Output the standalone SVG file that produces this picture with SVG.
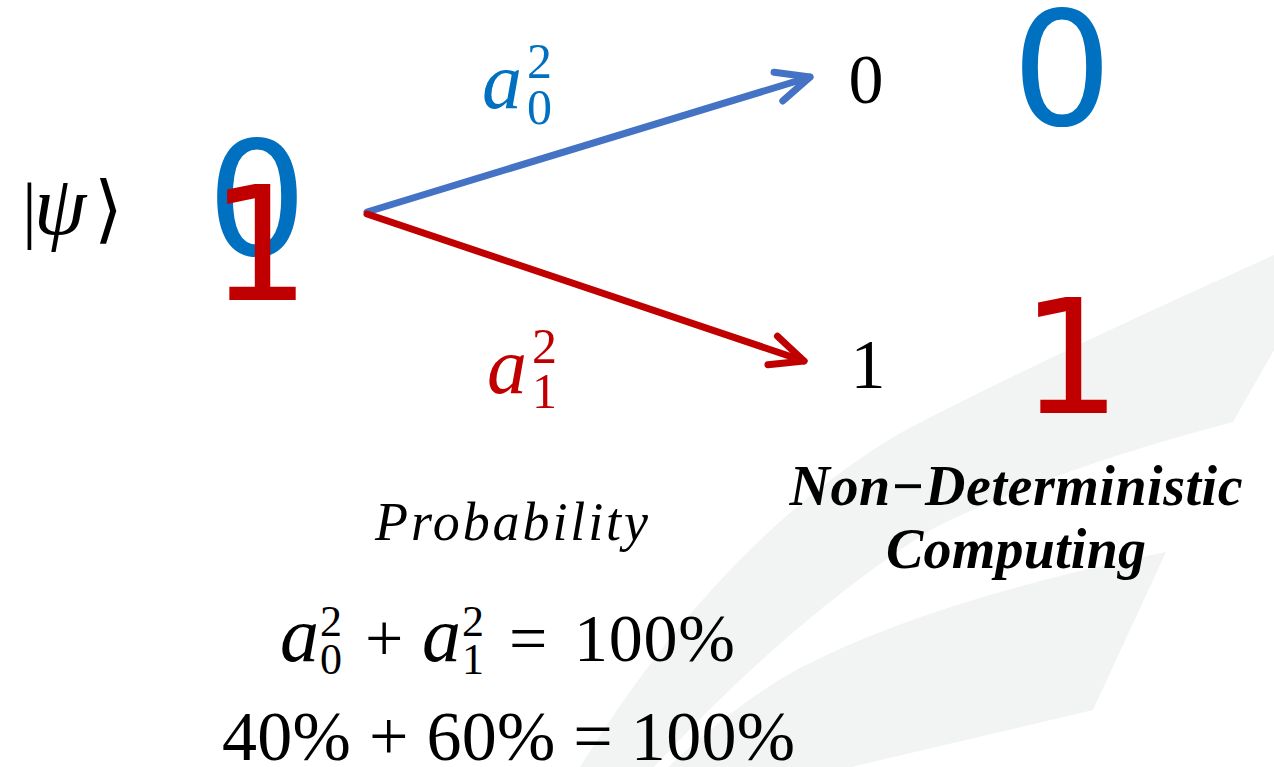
<svg xmlns="http://www.w3.org/2000/svg" width="1274" height="767" viewBox="0 0 1274 767">
<style>
.bg{fill:#F2F3F3}
.math{font-family:"Liberation Serif","DejaVu Serif",serif}
.it{font-style:italic}
.big{font-family:"DejaVu Sans",sans-serif;font-size:158px;text-anchor:middle}
.blue{fill:#0070C0}
.red{fill:#C00000}
.conn{fill:none;stroke-width:7;stroke-linecap:round;stroke-linejoin:round}
</style>
<defs>
<marker id="ahB" viewBox="0 0 46 44" refX="40" refY="22" markerWidth="46" markerHeight="44" markerUnits="userSpaceOnUse" orient="auto">
<path d="M7,7 L40,22 L7,37" fill="none" stroke="#4472C4" stroke-width="7" stroke-linecap="round" stroke-linejoin="round"/>
</marker>
<marker id="ahR" viewBox="0 0 46 44" refX="40" refY="22" markerWidth="46" markerHeight="44" markerUnits="userSpaceOnUse" orient="auto">
<path d="M7,7 L40,22 L7,37" fill="none" stroke="#C00000" stroke-width="7" stroke-linecap="round" stroke-linejoin="round"/>
</marker>
</defs>
<rect width="1274" height="767" fill="#FFFFFF"/>
<g id="background">
<path class="bg" d="M1274,255 Q1050,355 900,433 Q720,540 580,767 L654,767 Q790,620 930,530 Q1050,470 1233,422 L1274,350 Z"/>
<path class="bg" d="M668,767 Q740,700 800,668 Q930,600 1166,552 L1093,710 L851,767 Z"/>
</g>
<g id="connectors">
<line class="conn" x1="367" y1="212" x2="810" y2="77" stroke="#4472C4" marker-end="url(#ahB)"/>
<line class="conn" x1="367" y1="214" x2="804" y2="361" stroke="#C00000" marker-end="url(#ahR)"/>
</g>
<g id="psi">
<text class="math" y="234" font-size="74"><tspan x="22">|</tspan><tspan x="34" class="it" font-size="84">ψ</tspan><tspan x="94">⟩</tspan></text>
</g>
<g id="superposition">
<text class="big blue" x="257" y="255">0</text>
<text class="big red" x="260" y="300">1</text>
</g>
<g id="label-a0">
<text class="math it blue" x="482" y="108" font-size="80">a</text>
<text class="math blue" x="527" y="78" font-size="50">2</text>
<text class="math blue" x="527" y="124" font-size="50">0</text>
</g>
<g id="label-a1">
<text class="math it red" x="487" y="393" font-size="80">a</text>
<text class="math red" x="532" y="363" font-size="50">2</text>
<text class="math red" x="532" y="408" font-size="50">1</text>
</g>
<g id="out0">
<text class="math" x="866" y="103" font-size="70" text-anchor="middle">0</text>
</g>
<g id="out1">
<text class="math" x="868" y="388" font-size="70" text-anchor="middle">1</text>
</g>
<g id="result0">
<text class="big blue" x="1062" y="125">0</text>
</g>
<g id="result1">
<text class="big red" x="1071" y="413">1</text>
</g>
<g id="probability">
<text class="math it" x="375" y="540" font-size="54" textLength="273" lengthAdjust="spacing">Probability</text>
<text class="math" y="661" font-size="68"><tspan x="280" class="it" font-size="78">a</tspan><tspan x="320" y="636" font-size="44">2</tspan><tspan x="320" y="674" font-size="44">0</tspan><tspan x="365" y="661">+</tspan><tspan x="422" class="it" font-size="78">a</tspan><tspan x="462" y="636" font-size="44">2</tspan><tspan x="462" y="674" font-size="44">1</tspan><tspan x="509" y="661">=</tspan><tspan x="574" textLength="161" lengthAdjust="spacing">100%</tspan></text>
<text class="math" x="222" y="760" font-size="70" textLength="573" lengthAdjust="spacing">40% + 60% = 100%</text>
</g>
<g id="non-deterministic">
<text class="math it" x="1016" y="505" font-size="56" font-weight="bold" text-anchor="middle" textLength="453" lengthAdjust="spacing">Non−Deterministic</text>
<text class="math it" x="1016" y="568" font-size="56" font-weight="bold" text-anchor="middle" textLength="260" lengthAdjust="spacing">Computing</text>
</g>
</svg>
